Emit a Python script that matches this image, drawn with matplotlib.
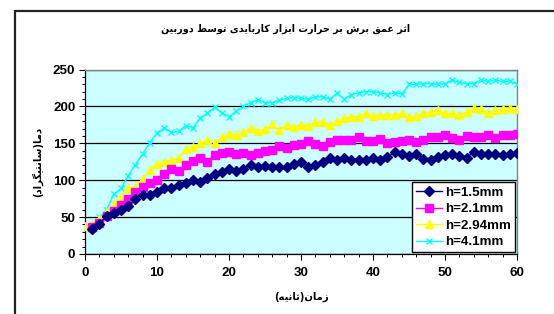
import matplotlib
matplotlib.use("Agg")
import matplotlib.pyplot as plt
from matplotlib.patches import Rectangle
from matplotlib.ticker import MultipleLocator

# ---------------- data ----------------
title_text = "اثر عمق برش بر حرارت ابزار کاربایدی توسط دوربین"
xlabel_text = "زمان(ثانیه)"
ylabel_text = "دما(سانتیگراد)"
series_labels = ["h=1.5mm", "h=2.1mm", "h=2.94mm", "h=4.1mm"]

t_h15 = list(range(1, 61))
v_h15 = [33.8, 40.5, 51.8, 55, 60, 65, 75, 80.6, 80.6, 83.8, 89, 89, 93, 96, 100, 97,
         103.6, 108, 111, 115, 112, 115, 121, 118.5, 119, 117.6, 117.6, 117.6, 122, 124,
         117.6, 121, 125, 130, 127.5, 130, 128, 128, 127.5, 130, 127, 131.5, 138, 135.6,
         133, 135.6, 129, 128, 131.5, 134, 135.6, 133, 130, 138.7, 135, 136, 136, 134.7,
         135.6, 136.5]

t_h21 = list(range(1, 61))
v_h21 = [36, 42, 51, 57.7, 66, 75, 84, 91, 96, 100.5, 109, 115, 112, 120, 125.7, 130,
         125, 134.7, 137, 138, 135.6, 137, 134.7, 137, 139, 141, 146, 143.7, 148, 149.5,
         152.7, 148.6, 146.8, 152, 155, 154, 155, 159, 153.6, 153.6, 156, 150, 152, 153.6,
         155, 151.8, 154.5, 159, 159, 161.7, 157.7, 154.5, 160, 159, 159, 161.7, 157.7,
         161.7, 161.7, 162.6]

t_h294 = list(range(0, 61))
v_h294 = [38, 41, 47, 57, 68, 76.6, 89, 91.4, 101.8, 114, 121.6, 124.8, 127, 130, 142.8,
          145.5, 150, 154.5, 150, 158, 162.6, 161.7, 165, 170.7, 167, 169, 176, 168, 175,
          172.5, 174.8, 173.9, 178.8, 178.8, 175, 179.7, 183.8, 186, 186, 190.5, 187, 187.8,
          188.7, 188, 190.5, 185, 187, 190.5, 192, 195, 190.5, 190.5, 187.8, 192.8, 197.7,
          196, 190.5, 195, 196.8, 197.7, 196.8]

t_h41 = list(range(1, 61))
v_h41 = [34, 50, 60, 81, 89, 106, 121, 135.6, 151, 164, 170.7, 165, 166, 174, 170.7, 184.7,
         191, 198.6, 191, 186, 193.7, 200, 205, 209, 205, 205, 208.6, 210.8, 212, 210.8,
         209.5, 213, 213, 210, 217.6, 210, 215.8, 218.5, 220, 220, 218.5, 215.8, 218.5,
         216.7, 229.7, 229.7, 231, 231, 229.7, 231, 235.6, 232.4, 231, 231, 235.6, 233.8,
         235.6, 233.8, 233.8, 231]

x_ticks = [0, 10, 20, 30, 40, 50, 60]
y_ticks = [0, 50, 100, 150, 200, 250]

# ---------------- Arabic / Persian shaping ----------------
FORMS = {
    '\u0627': ('\uFE8D', '\uFE8E', None, None),
    '\u0628': ('\uFE8F', '\uFE90', '\uFE91', '\uFE92'),
    '\u062A': ('\uFE95', '\uFE96', '\uFE97', '\uFE98'),
    '\u062B': ('\uFE99', '\uFE9A', '\uFE9B', '\uFE9C'),
    '\u062D': ('\uFEA1', '\uFEA2', '\uFEA3', '\uFEA4'),
    '\u062F': ('\uFEA9', '\uFEAA', None, None),
    '\u0631': ('\uFEAD', '\uFEAE', None, None),
    '\u0632': ('\uFEAF', '\uFEB0', None, None),
    '\u0633': ('\uFEB1', '\uFEB2', '\uFEB3', '\uFEB4'),
    '\u0634': ('\uFEB5', '\uFEB6', '\uFEB7', '\uFEB8'),
    '\u0637': ('\uFEC1', '\uFEC2', '\uFEC3', '\uFEC4'),
    '\u0639': ('\uFEC9', '\uFECA', '\uFECB', '\uFECC'),
    '\u0642': ('\uFED5', '\uFED6', '\uFED7', '\uFED8'),
    '\u0645': ('\uFEE1', '\uFEE2', '\uFEE3', '\uFEE4'),
    '\u0646': ('\uFEE5', '\uFEE6', '\uFEE7', '\uFEE8'),
    '\u0647': ('\uFEE9', '\uFEEA', '\uFEEB', '\uFEEC'),
    '\u0648': ('\uFEED', '\uFEEE', None, None),
    '\u06A9': ('\uFB8E', '\uFB8F', '\uFB90', '\uFB91'),
    '\u06AF': ('\uFB92', '\uFB93', '\uFB94', '\uFB95'),
    '\u06CC': ('\uFBFC', '\uFBFD', '\uFBFE', '\uFBFF'),
}


def shape_rtl(s):
    try:
        import arabic_reshaper
        from bidi.algorithm import get_display
        return get_display(arabic_reshaper.reshape(s))
    except Exception:
        pass
    out = []
    n = len(s)
    for i, ch in enumerate(s):
        if ch not in FORMS:
            out.append(ch)
            continue
        f = FORMS[ch]
        prev = s[i - 1] if i > 0 else None
        nxt = s[i + 1] if i < n - 1 else None
        join_prev = prev in FORMS and FORMS[prev][2] is not None
        join_next = f[2] is not None and nxt in FORMS
        if join_prev and join_next:
            out.append(f[3])
        elif join_prev:
            out.append(f[1])
        elif join_next:
            out.append(f[2])
        else:
            out.append(f[0])
    vis = ''.join(reversed(out))
    mirror = {'(': ')', ')': '('}
    return ''.join(mirror.get(c, c) for c in vis)


# ---------------- figure ----------------
W, H = 554, 314
fig = plt.figure(figsize=(W / 100, H / 100), dpi=100)
fig.patch.set_facecolor('white')

# outer chart frame (cropped on right / bottom)
fig.patches.append(Rectangle((15 / W, -0.1), 1.2, 1 - 11 / H + 0.1,
                             transform=fig.transFigure, fill=False,
                             edgecolor='#222222', linewidth=1.6, clip_on=False))

ax = fig.add_axes([85 / W, 1 - 254 / H, (517 - 85) / W, (254 - 69.5) / H])
ax.set_facecolor('#CCFFFF')

ax.plot(t_h15, v_h15, color='#000080', marker='D', markersize=4.8, linewidth=1.0,
        label=series_labels[0], zorder=6)
ax.plot(t_h21, v_h21, color='#FF00FF', marker='s', markersize=5.2, linewidth=1.0,
        label=series_labels[1], zorder=5)
ax.plot(t_h294, v_h294, color='#FFFF00', marker='^', markersize=6.4, linewidth=1.0,
        label=series_labels[2], zorder=4)
ax.plot(t_h41, v_h41, color='#00FFFF', marker='x', markersize=3.8, markeredgewidth=1.0,
        linewidth=1.0, label=series_labels[3], zorder=3)

ax.set_xlim(0, 60)
ax.set_ylim(0, 250)
ax.set_xticks(x_ticks)
ax.set_yticks(y_ticks)
ax.xaxis.set_minor_locator(MultipleLocator(2))
ax.yaxis.set_minor_locator(MultipleLocator(10))
ax.tick_params(axis='both', which='major', direction='out', length=4, width=0.8,
               colors='black', labelsize=9.6, pad=3)
ax.tick_params(axis='both', which='minor', direction='out', length=2.5, width=0.7,
               colors='black')
ax.tick_params(axis='x', which='major', pad=5)
for lab in ax.get_xticklabels() + ax.get_yticklabels():
    lab.set_fontweight('bold')
    lab.set_fontfamily('Liberation Sans')

ax.grid(axis='y', which='major', color='black', linewidth=0.9)
ax.set_axisbelow(True)
for side in ('top', 'right'):
    ax.spines[side].set_color('#808080')
    ax.spines[side].set_linewidth(1.0)
for side in ('left', 'bottom'):
    ax.spines[side].set_color('black')
    ax.spines[side].set_linewidth(0.9)

leg = ax.legend(loc='lower right', bbox_to_anchor=(1.0, 0.0), frameon=True, fancybox=False,
                framealpha=1, edgecolor='black', handlelength=1.9, handletextpad=0.3,
                borderpad=0.3, labelspacing=0.32, borderaxespad=0.12,
                prop={'family': 'Liberation Sans', 'weight': 'bold', 'size': 9.6})
leg.get_frame().set_linewidth(1.0)
leg.set_zorder(10)

fig.text(286 / W, 1 - 29 / H, shape_rtl(title_text), ha='center', va='center',
         fontsize=6.9, fontweight='bold', family='DejaVu Sans')
fig.text(301 / W, 1 - 297 / H, shape_rtl(xlabel_text), ha='center', va='center',
         fontsize=7.2, fontweight='bold', family='DejaVu Sans')
fig.text(37 / W, 1 - 162 / H, shape_rtl(ylabel_text), ha='center', va='center',
         rotation=90, fontsize=7.2, fontweight='bold', family='DejaVu Sans')

fig.savefig('out.png', dpi=100)
